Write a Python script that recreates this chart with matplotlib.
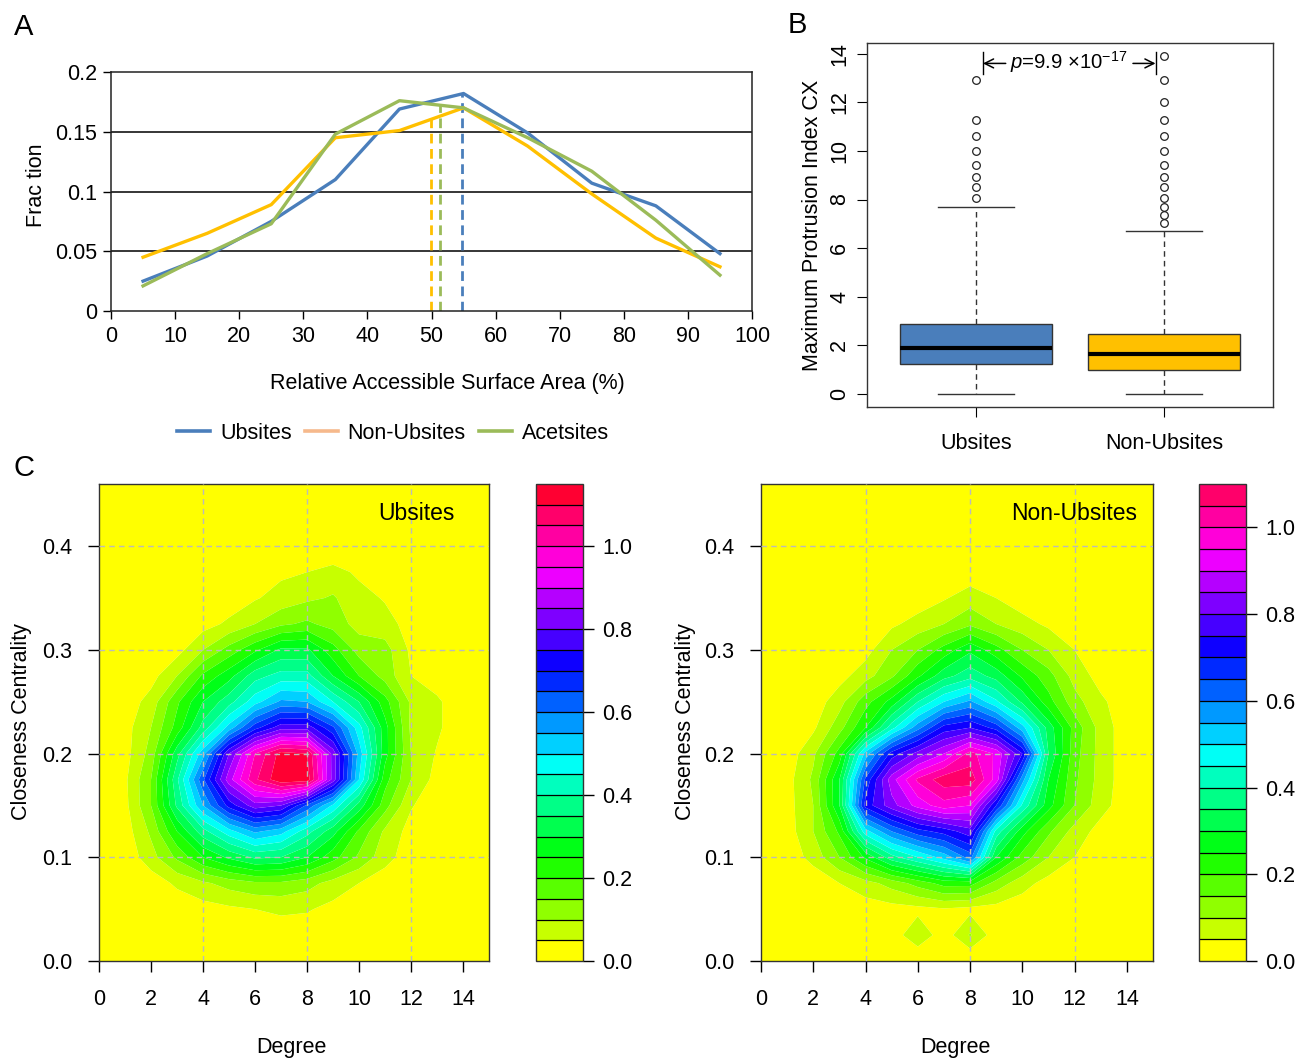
import numpy as np
import matplotlib
matplotlib.use("Agg")
import matplotlib.pyplot as plt
from matplotlib.lines import Line2D
from matplotlib.colors import hsv_to_rgb

plt.rcParams['font.family'] = ['Liberation Sans', 'DejaVu Sans']
plt.rcParams['mathtext.fontset'] = 'custom'
plt.rcParams['mathtext.rm'] = 'Liberation Sans'
plt.rcParams['mathtext.it'] = 'Liberation Sans:italic'

FS = 15.5

# ---------------- Panel A data ----------------
rsa_bins = [5, 15, 25, 35, 45, 55, 65, 75, 85, 95]
ub_frac = [0.025, 0.046, 0.075, 0.110, 0.169, 0.182, 0.149, 0.107, 0.088, 0.048]
nonub_frac = [0.045, 0.065, 0.089, 0.145, 0.151, 0.170, 0.138, 0.098, 0.061, 0.037]
acet_frac = [0.021, 0.048, 0.073, 0.148, 0.176, 0.170, 0.145, 0.117, 0.076, 0.030]
medians_rsa = {'Non-Ubsites': 49.9, 'Acetsites': 51.3, 'Ubsites': 54.8}

# ---------------- Panel B data ----------------
box_labels = ['Ubsites', 'Non-Ubsites']
ub_box = dict(q1=1.22, med=1.90, q3=2.86, whislo=0.0, whishi=7.68)
nonub_box = dict(q1=0.99, med=1.64, q3=2.46, whislo=0.0, whishi=6.72)
ub_fliers = [8.08, 8.50, 8.93, 9.43, 10.0, 10.6, 11.27, 12.9]
nonub_fliers = [7.03, 7.35, 7.69, 8.08, 8.50, 8.93, 9.43, 10.0, 10.6, 11.27, 12.03, 12.9, 13.89]
p_text = r'$p$=9.9 ×10$^{-17}$'

# ---------------- Panel C data ----------------
degree_grid = [0, 1, 2, 3, 4, 5, 6, 7, 8, 9, 10, 11, 12, 13, 14, 15]
closeness_grid = [0.0, 0.025, 0.05, 0.075, 0.1, 0.125, 0.15, 0.175, 0.2, 0.225,
                  0.25, 0.275, 0.3, 0.325, 0.35, 0.375, 0.4, 0.425, 0.45, 0.475]
density_ub = [
    [0, 0, 0, 0, 0, 0, 0, 0, 0, 0, 0, 0, 0, 0, 0, 0],
    [0, 0, 0, 0, 0.005, 0.01, 0.015, 0.02, 0.02, 0.01, 0.005, 0, 0, 0, 0, 0],
    [0, 0, 0, 0.015, 0.03, 0.04, 0.05, 0.06, 0.055, 0.035, 0.015, 0.01, 0, 0, 0, 0],
    [0, 0, 0.02, 0.06, 0.09, 0.12, 0.14, 0.14, 0.12, 0.08, 0.05, 0.02, 0.01, 0, 0, 0],
    [0, 0.015, 0.08, 0.16, 0.25, 0.31, 0.36, 0.35, 0.30, 0.22, 0.14, 0.07, 0.02, 0.01, 0, 0],
    [0, 0.025, 0.11, 0.25, 0.38, 0.48, 0.56, 0.52, 0.42, 0.32, 0.19, 0.09, 0.03, 0.01, 0, 0],
    [0, 0.035, 0.15, 0.36, 0.55, 0.72, 0.83, 0.80, 0.64, 0.49, 0.33, 0.17, 0.055, 0.015, 0, 0],
    [0, 0.04, 0.15, 0.39, 0.64, 0.88, 1.04, 1.14, 1.13, 0.83, 0.50, 0.22, 0.10, 0.03, 0, 0],
    [0, 0.03, 0.12, 0.33, 0.53, 0.80, 1.00, 1.12, 1.10, 0.83, 0.53, 0.27, 0.10, 0.045, 0.01, 0],
    [0, 0.03, 0.10, 0.22, 0.37, 0.52, 0.68, 0.78, 0.78, 0.66, 0.47, 0.27, 0.09, 0.06, 0.01, 0],
    [0, 0.02, 0.07, 0.19, 0.30, 0.38, 0.48, 0.56, 0.55, 0.45, 0.35, 0.22, 0.09, 0.06, 0.01, 0],
    [0, 0, 0.03, 0.10, 0.21, 0.28, 0.38, 0.42, 0.42, 0.30, 0.20, 0.13, 0.05, 0.02, 0, 0],
    [0, 0, 0, 0.03, 0.10, 0.17, 0.24, 0.31, 0.31, 0.22, 0.13, 0.12, 0.04, 0.01, 0, 0],
    [0, 0, 0, 0, 0.03, 0.06, 0.10, 0.14, 0.16, 0.13, 0.08, 0.07, 0.03, 0, 0, 0],
    [0, 0, 0, 0, 0, 0.02, 0.045, 0.07, 0.09, 0.105, 0.07, 0.045, 0.02, 0, 0, 0],
    [0, 0, 0, 0, 0, 0, 0.01, 0.04, 0.05, 0.07, 0.04, 0.02, 0, 0, 0, 0],
    [0, 0, 0, 0, 0, 0, 0, 0, 0, 0, 0, 0, 0, 0, 0, 0],
    [0, 0, 0, 0, 0, 0, 0, 0, 0, 0, 0, 0, 0, 0, 0, 0],
    [0, 0, 0, 0, 0, 0, 0, 0, 0, 0, 0, 0, 0, 0, 0, 0],
    [0, 0, 0, 0, 0, 0, 0, 0, 0, 0, 0, 0, 0, 0, 0, 0],
]
density_nonub = [
    [0, 0, 0, 0, 0, 0, 0, 0, 0, 0, 0, 0, 0, 0, 0, 0],
    [0, 0, 0, 0, 0.01, 0.02, 0.09, 0.02, 0.105, 0.02, 0.01, 0, 0, 0, 0, 0],
    [0, 0, 0, 0.015, 0.025, 0.03, 0.035, 0.045, 0.035, 0.03, 0.02, 0.01, 0, 0, 0, 0],
    [0, 0, 0.01, 0.05, 0.08, 0.12, 0.17, 0.22, 0.22, 0.13, 0.07, 0.03, 0.01, 0, 0, 0],
    [0, 0.015, 0.07, 0.15, 0.26, 0.38, 0.45, 0.52, 0.62, 0.30, 0.18, 0.10, 0.05, 0.015, 0, 0],
    [0, 0.025, 0.10, 0.21, 0.48, 0.60, 0.68, 0.72, 0.78, 0.43, 0.27, 0.16, 0.08, 0.03, 0, 0],
    [0, 0.03, 0.10, 0.30, 0.72, 0.83, 0.92, 0.98, 0.95, 0.70, 0.44, 0.27, 0.15, 0.07, 0.02, 0],
    [0, 0.03, 0.11, 0.30, 0.66, 0.88, 1.01, 1.08, 1.08, 0.93, 0.57, 0.30, 0.16, 0.08, 0.02, 0],
    [0, 0.02, 0.09, 0.22, 0.52, 0.72, 0.82, 0.90, 1.02, 0.94, 0.75, 0.35, 0.17, 0.08, 0.02, 0],
    [0, 0, 0.04, 0.13, 0.25, 0.43, 0.58, 0.72, 0.75, 0.68, 0.52, 0.33, 0.18, 0.08, 0.02, 0],
    [0, 0, 0.02, 0.08, 0.18, 0.27, 0.40, 0.50, 0.56, 0.46, 0.34, 0.22, 0.12, 0.06, 0.02, 0],
    [0, 0, 0, 0.03, 0.08, 0.14, 0.24, 0.33, 0.38, 0.33, 0.24, 0.17, 0.08, 0.03, 0, 0],
    [0, 0, 0, 0, 0.03, 0.10, 0.15, 0.22, 0.29, 0.22, 0.15, 0.10, 0.05, 0.02, 0, 0],
    [0, 0, 0, 0, 0, 0.04, 0.07, 0.10, 0.14, 0.10, 0.07, 0.04, 0.01, 0, 0, 0],
    [0, 0, 0, 0, 0, 0, 0.02, 0.045, 0.075, 0.05, 0.02, 0, 0, 0, 0, 0],
    [0, 0, 0, 0, 0, 0, 0, 0, 0.02, 0, 0, 0, 0, 0, 0, 0],
    [0, 0, 0, 0, 0, 0, 0, 0, 0, 0, 0, 0, 0, 0, 0, 0],
    [0, 0, 0, 0, 0, 0, 0, 0, 0, 0, 0, 0, 0, 0, 0, 0],
    [0, 0, 0, 0, 0, 0, 0, 0, 0, 0, 0, 0, 0, 0, 0, 0],
    [0, 0, 0, 0, 0, 0, 0, 0, 0, 0, 0, 0, 0, 0, 0, 0],
]
levels_ub_top = 1.15
levels_nonub_top = 1.10

# ---------------- styles ----------------
BLUE = '#4A7EBB'
ORANGE = '#FFC000'
GREEN = '#9BBB59'
PEACH = '#F6B98C'
W, H = 1301, 1059
fig = plt.figure(figsize=(W / 100, H / 100), dpi=100)


def frac_box(x0, y0, x1, y1):
    return [x0 / W, 1 - y1 / H, (x1 - x0) / W, (y1 - y0) / H]


# ================= Panel A =================
axA = fig.add_axes(frac_box(111, 72, 752, 311))
line_specs = [('Ubsites', ub_frac, BLUE), ('Non-Ubsites', nonub_frac, ORANGE),
              ('Acetsites', acet_frac, GREEN)]
for name, vals, col in line_specs:
    axA.plot(rsa_bins, vals, color=col, lw=2.4, solid_joinstyle='round', zorder=3)
for name, vals, col in [('Non-Ubsites', nonub_frac, ORANGE), ('Acetsites', acet_frac, GREEN),
                        ('Ubsites', ub_frac, BLUE)]:
    m = medians_rsa[name]
    top = np.interp(m, rsa_bins, vals)
    axA.plot([m, m], [0, top], color=col, lw=2.0, ls=(0, (3.5, 2)), zorder=2)
axA.set_xlim(0, 100)
axA.set_ylim(0, 0.2)
axA.set_xticks(range(0, 101, 10))
axA.set_yticks([0, 0.05, 0.1, 0.15, 0.2])
axA.set_yticklabels(['0', '0.05', '0.1', '0.15', '0.2'])
for yv in [0.05, 0.1, 0.15]:
    axA.axhline(yv, color='black', lw=1.1, zorder=1)
for s in axA.spines.values():
    s.set_color('#222222')
    s.set_linewidth(1.1)
axA.tick_params(axis='both', labelsize=FS, direction='out', length=6, width=1)
axA.tick_params(axis='y', pad=4)
axA.tick_params(axis='x', pad=5)
fig.text(447 / W, 1 - 383 / H, 'Relative Accessible Surface Area (%)', ha='center', va='center', fontsize=FS)
fig.text(37 / W, 1 - 185 / H, 'Frac tion', ha='center', va='center', fontsize=FS, rotation=90)
handles = [Line2D([], [], color=BLUE, lw=2.6), Line2D([], [], color=PEACH, lw=2.6),
           Line2D([], [], color=GREEN, lw=2.6)]
fig.legend(handles, ['Ubsites', 'Non-Ubsites', 'Acetsites'], loc='center',
           bbox_to_anchor=(393 / W, 1 - 433 / H), ncol=3, frameon=False, fontsize=FS,
           handlelength=1.55, handletextpad=0.45, columnspacing=0.6)

# ================= Panel B =================
axB = fig.add_axes(frac_box(867, 43, 1273, 407))
stats = []
for lab, b, fl in [(box_labels[0], ub_box, ub_fliers), (box_labels[1], nonub_box, nonub_fliers)]:
    d = dict(b)
    d['fliers'] = fl
    d['label'] = lab
    stats.append(d)
bp = axB.bxp(stats, positions=[1, 2], widths=0.807, patch_artist=True, showfliers=True,
             boxprops=dict(edgecolor='#333333', linewidth=1.0),
             medianprops=dict(color='black', linewidth=3),
             whiskerprops=dict(color='#333333', linewidth=1.0, linestyle=(0, (4, 3))),
             capprops=dict(color='#333333', linewidth=1.0), capwidths=0.40,
             flierprops=dict(marker='o', markerfacecolor='none', markeredgecolor='#222222',
                             markersize=5.5, markeredgewidth=0.9))
for patch, col in zip(bp['boxes'], [BLUE, ORANGE]):
    patch.set_facecolor(col)
axB.set_xlim(0.42, 2.58)
axB.set_ylim(-0.535, 14.44)
axB.set_yticks(range(0, 15, 2))
axB.set_xticks([1, 2])
axB.set_xticklabels(box_labels)
axB.tick_params(axis='y', labelsize=FS, labelrotation=90, length=7, pad=5)
axB.tick_params(axis='x', labelsize=FS, length=7, pad=12)
for lab in axB.get_yticklabels():
    lab.set_va('center')
for s in axB.spines.values():
    s.set_color('#333333')
    s.set_linewidth(1.0)
fig.text(812 / W, 1 - 225 / H, 'Maximum Protrusion Index CX', ha='center', va='center',
         fontsize=FS, rotation=90)
yp = 13.6
axB.plot([1.035, 1.035], [13.15, 14.05], color='black', lw=1.0)
axB.plot([1.957, 1.957], [13.15, 14.05], color='black', lw=1.0)
axB.annotate('', xy=(1.037, yp), xytext=(1.158, yp),
             arrowprops=dict(arrowstyle='->', color='black', lw=1.1, mutation_scale=16,
                             shrinkA=0, shrinkB=0))
axB.annotate('', xy=(1.955, yp), xytext=(1.835, yp),
             arrowprops=dict(arrowstyle='->', color='black', lw=1.1, mutation_scale=16,
                             shrinkA=0, shrinkB=0))
axB.text(1.492, yp + 0.05, p_text, ha='center', va='center', fontsize=14.6)

# ================= Panel C =================
def band_colors(n):
    hues = [(60 + 13.1 * k) % 360 / 360.0 for k in range(n)]
    return [hsv_to_rgb((h, 1.0, 1.0)) for h in hues]


def heat_panel(box, cbox, Z, top, title, title_x):
    ax = fig.add_axes(frac_box(*box))
    levels = np.round(np.arange(0, top + 1e-9, 0.05), 4)
    cols = band_colors(len(levels) - 1)
    X, Y = np.meshgrid(degree_grid, closeness_grid)
    cs = ax.contourf(X, Y, np.array(Z), levels=levels, colors=cols, antialiased=True)
    ax.set_xlim(0, 15)
    ax.set_ylim(0, 0.46)
    for xv in [4, 8, 12]:
        ax.axvline(xv, color='#BBBBBB', lw=1.0, ls=(0, (4, 3)), zorder=3)
    for yv in [0.1, 0.2, 0.3, 0.4]:
        ax.axhline(yv, color='#BBBBBB', lw=1.0, ls=(0, (4, 3)), zorder=3)
    ax.set_xticks(range(0, 15, 2))
    ax.set_yticks([0.0, 0.1, 0.2, 0.3, 0.4])
    ax.set_yticklabels(['0.0', '0.1', '0.2', '0.3', '0.4'])
    ax.tick_params(axis='both', labelsize=FS, length=8, width=1)
    ax.tick_params(axis='x', pad=12)
    ax.tick_params(axis='y', pad=11)
    for s in ax.spines.values():
        s.set_color('#333333')
        s.set_linewidth(1.0)
    ax.text(title_x, 0.432, title, ha='center', va='center', fontsize=16.5, zorder=5)
    cax = fig.add_axes(frac_box(*cbox))
    cb = fig.colorbar(cs, cax=cax, drawedges=True)
    cb.dividers.set_color('black')
    cb.dividers.set_linewidth(0.9)
    cb.outline.set_edgecolor('#333333')
    cb.outline.set_linewidth(1.0)
    cb.set_ticks([0.0, 0.2, 0.4, 0.6, 0.8, 1.0])
    cb.set_ticklabels(['0.0', '0.2', '0.4', '0.6', '0.8', '1.0'])
    cax.tick_params(labelsize=FS, length=8, width=1, pad=6)
    return ax


heat_panel((99, 484, 489, 961), (536, 484, 583, 961), density_ub, levels_ub_top, 'Ubsites', 12.2)
heat_panel((761, 484, 1153, 961), (1199, 484, 1246, 961), density_nonub, levels_nonub_top,
           'Non-Ubsites', 12.0)
fig.text(291 / W, 1 - 1048 / H, 'Degree', ha='center', va='center', fontsize=FS)
fig.text(955 / W, 1 - 1048 / H, 'Degree', ha='center', va='center', fontsize=FS)
fig.text(22 / W, 1 - 722 / H, 'Closeness Centrality', ha='center', va='center', fontsize=FS, rotation=90)
fig.text(686 / W, 1 - 722 / H, 'Closeness Centrality', ha='center', va='center', fontsize=FS, rotation=90)

# panel letters
fig.text(24 / W, 1 - 27 / H, 'A', ha='center', va='center', fontsize=21)
fig.text(797 / W, 1 - 25 / H, 'B', ha='center', va='center', fontsize=21)
fig.text(24 / W, 1 - 468 / H, 'C', ha='center', va='center', fontsize=21)

fig.savefig('out.png', dpi=100)
